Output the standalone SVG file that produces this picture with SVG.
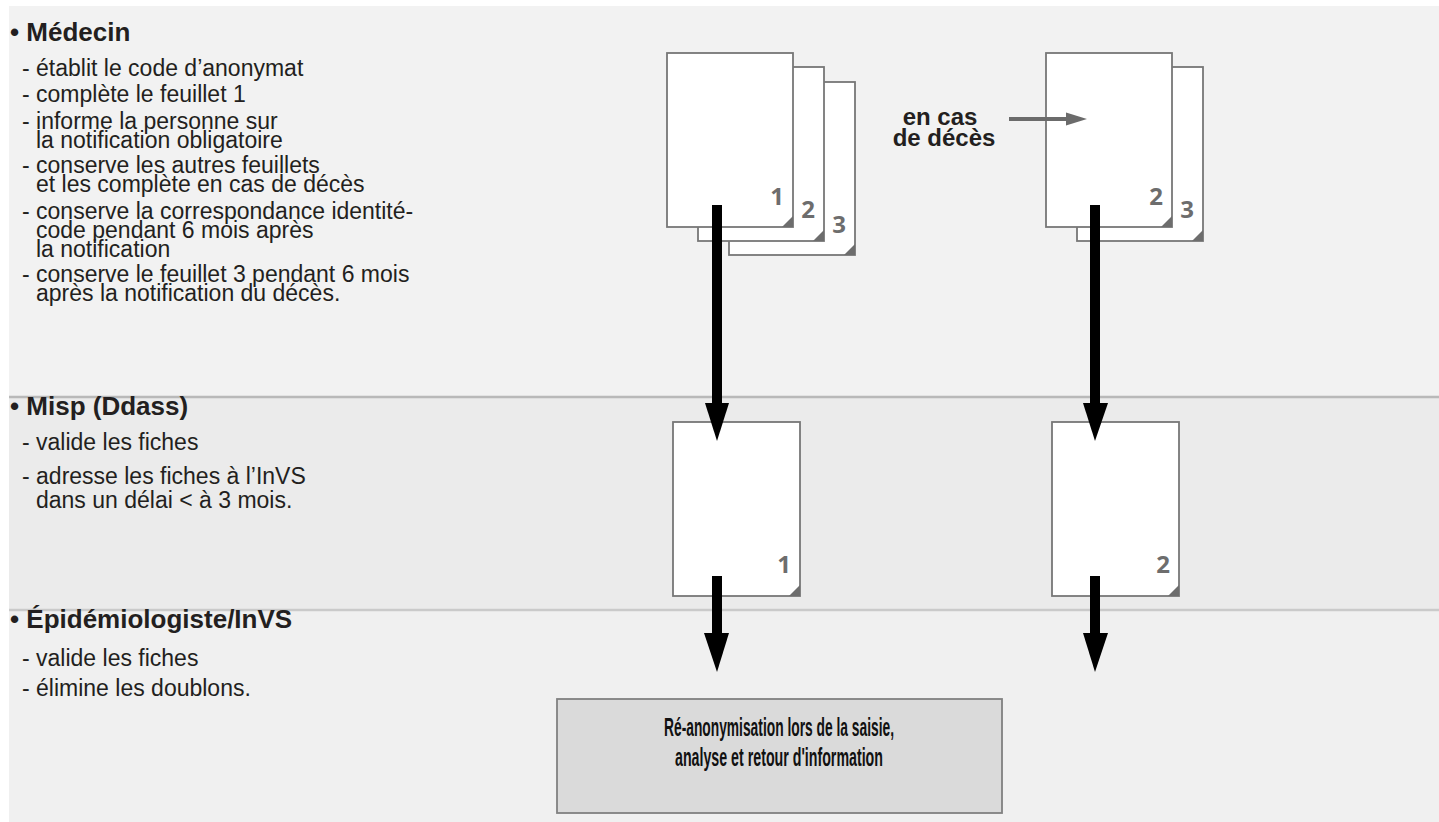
<svg xmlns="http://www.w3.org/2000/svg" width="1439" height="822" viewBox="0 0 1439 822">
<style>
.h{font-family:"Liberation Sans",Arial,sans-serif;font-weight:bold;font-size:26px;fill:#231f20}
.t{font-family:"Liberation Sans",Arial,sans-serif;font-size:23px;fill:#231f20}
.sheet{fill:#fff;stroke:#777;stroke-width:1.8}
.fold{fill:#6d6d6d}
.num{font-family:"Open Sans","DejaVu Sans",sans-serif;font-weight:bold;font-size:24px;fill:#6d6d6d;text-anchor:middle}
.lab{font-family:"Liberation Sans",Arial,sans-serif;font-weight:bold;font-size:24px;fill:#231f20;text-anchor:middle}
.box{font-family:"Liberation Sans Narrow","Liberation Sans",Arial,sans-serif;font-weight:bold;font-size:25px;fill:#111;text-anchor:middle}
</style>
<defs>
<g id="fc"><path class="fold" d="M0,0 L-11,11 L0,11 Z"/></g>
</defs>
<rect x="0" y="0" width="1439" height="822" fill="#fff"/>
<g id="bands">
<rect x="9" y="6" width="1430" height="391" fill="#f2f2f2"/>
<rect x="9" y="397" width="1430" height="213" fill="#ebebeb"/>
<rect x="9" y="610" width="1430" height="212" fill="#f0f0f0"/>
<line x1="9" y1="397" x2="1439" y2="397" stroke="#b9b9b9" stroke-width="2.5"/>
<line x1="9" y1="610" x2="1439" y2="610" stroke="#cacaca" stroke-width="2.5"/>
</g>
<g id="medecin">
<text class="h" x="10" y="41">• Médecin</text>
<text class="t" x="22" y="76">- établit le code d’anonymat</text>
<text class="t" x="22" y="102">- complète le feuillet 1</text>
<text class="t" x="22" y="129">- informe la personne sur</text>
<text class="t" x="36" y="148">la notification obligatoire</text>
<text class="t" x="22" y="173">- conserve les autres feuillets</text>
<text class="t" x="36" y="192">et les complète en cas de décès</text>
<text class="t" x="22" y="219">- conserve la correspondance identité-</text>
<text class="t" x="36" y="238">code pendant 6 mois après</text>
<text class="t" x="36" y="257">la notification</text>
<text class="t" x="22" y="282">- conserve le feuillet 3 pendant 6 mois</text>
<text class="t" x="36" y="301">après la notification du décès.</text>
</g>
<g id="misp">
<text class="h" x="10" y="415">• Misp (Ddass)</text>
<text class="t" x="22" y="450">- valide les fiches</text>
<text class="t" x="22" y="484">- adresse les fiches à l’InVS</text>
<text class="t" x="36" y="508">dans un délai &lt; à 3 mois.</text>
</g>
<g id="invs">
<text class="h" x="10" y="628">• Épidémiologiste/InVS</text>
<text class="t" x="22" y="666">- valide les fiches</text>
<text class="t" x="22" y="696">- élimine les doublons.</text>
</g>
<g id="docs-left">
<rect class="sheet" x="729" y="82" width="126" height="173"/>
<use href="#fc" x="855" y="244"/>
<text class="num" x="839" y="233">3</text>
<rect class="sheet" x="698" y="67" width="126" height="174"/>
<use href="#fc" x="824" y="230"/>
<text class="num" x="808" y="218">2</text>
<rect class="sheet" x="667" y="53" width="126" height="174"/>
<use href="#fc" x="793" y="216"/>
<text class="num" x="777" y="205">1</text>
</g>
<g id="docs-right">
<rect class="sheet" x="1077" y="67" width="126" height="174"/>
<use href="#fc" x="1203" y="230"/>
<text class="num" x="1187" y="218">3</text>
<rect class="sheet" x="1046" y="53" width="126" height="174"/>
<use href="#fc" x="1172" y="216"/>
<text class="num" x="1156" y="205">2</text>
</g>
<g id="deces">
<text class="lab" x="940" y="125">en cas</text>
<text class="lab" x="944" y="146">de décès</text>
</g>
<g id="doc-misp-1">
<rect class="sheet" x="673" y="422" width="127" height="174"/>
<use href="#fc" x="800" y="585"/>
<text class="num" x="784" y="573">1</text>
</g>
<g id="doc-misp-2">
<rect class="sheet" x="1052" y="422" width="127" height="174"/>
<use href="#fc" x="1179" y="585"/>
<text class="num" x="1163" y="573">2</text>
</g>
<g id="result">
<rect x="557" y="699" width="445" height="114" fill="#dadada" stroke="#808080" stroke-width="1.8"/>
<text class="box" x="779" y="736" textLength="230" lengthAdjust="spacingAndGlyphs">Ré-anonymisation lors de la saisie,</text>
<text class="box" x="779" y="766" textLength="208" lengthAdjust="spacingAndGlyphs">analyse et retour d'information</text>
</g>
<g id="connectors">
<rect x="712" y="205" width="10" height="200" fill="#000"/>
<polygon points="705,403 729,403 717,441" fill="#000"/>
<rect x="1090" y="205" width="10" height="200" fill="#000"/>
<polygon points="1083,403 1108,403 1095,441" fill="#000"/>
<rect x="712" y="576" width="10" height="59" fill="#000"/>
<polygon points="704,633 729,633 717,672" fill="#000"/>
<rect x="1090" y="576" width="10" height="59" fill="#000"/>
<polygon points="1083,633 1108,633 1095,672" fill="#000"/>
<line x1="1009" y1="119" x2="1068" y2="119" stroke="#6b6b6b" stroke-width="4"/>
<polygon points="1066,112.5 1087,119 1066,125.5" fill="#6b6b6b"/>
</g>
</svg>
